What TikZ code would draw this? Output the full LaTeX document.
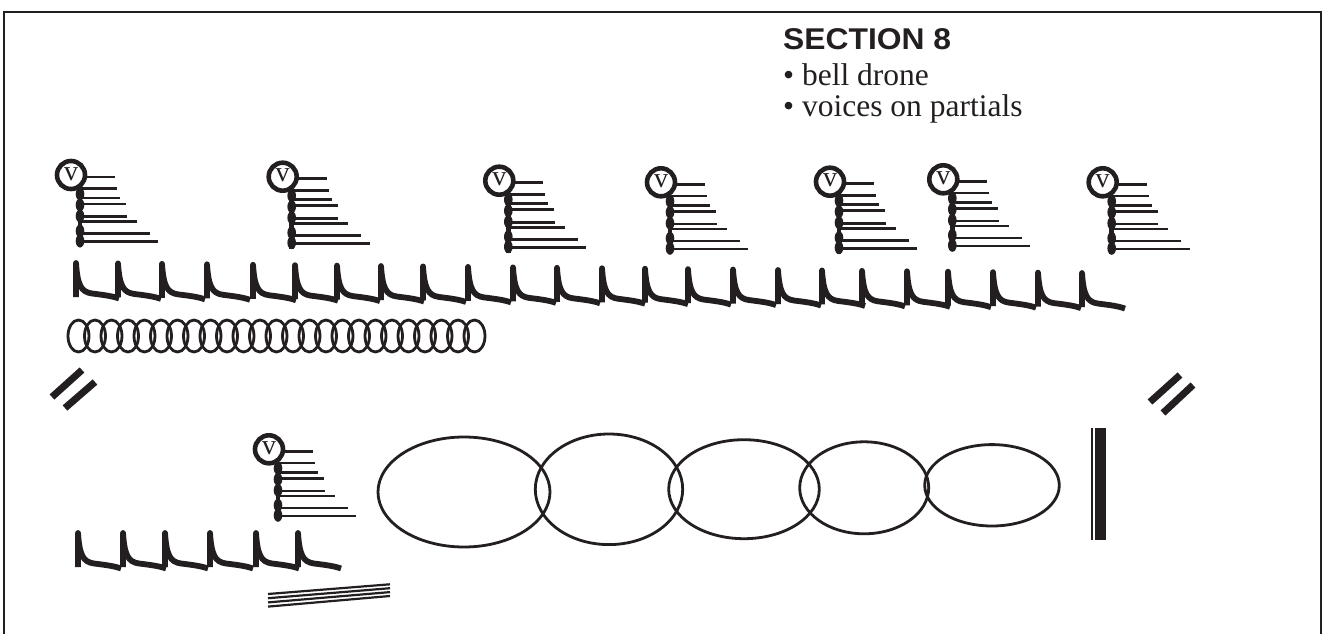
\documentclass[tikz,border=0pt]{standalone}
\usepackage{fontspec}
\usepackage{graphicx}
\setmainfont{Liberation Serif}
\newfontfamily\headfont{Liberation Sans}
\definecolor{ink}{RGB}{35,31,32}
\tikzset{
  hookline/.style={draw=ink, line width=5.8pt, line join=round},
  partial/.style={draw=ink, line width=2.6pt},
  slashbar/.style={draw=ink, line width=7pt},
  bigoval/.style={draw=ink, line width=2.8pt},
  coiloval/.style={draw=ink, line width=2.8pt},
  vmotif/.pic={
    \draw[ink, line width=4.6pt] (0,0) circle[radius=14];
    \node[inner sep=0, text=ink, font=\fontsize{28}{28}\selectfont] (-vl) at (0,-1) {v};
    \draw[ink, line width=4.5pt] (9,15) -- (9,72);
    \foreach \b in {19,30,41,56,66} \fill[ink] (9,\b) ellipse[x radius=4.3, y radius=6.5];
    \draw[partial] (14,2) -- (44,2);
    \foreach \d/\e in {13.5/46, 23/49, 29/55, 41.5/55.5, 46.5/65.5, 58.5/78.5, 66.5/87}
      \draw[partial] (9,\d) -- (\e,\d);
  },
  bellhook/.pic={
    \draw[hookline] (0,0) -- (0,-34) .. controls (1.5,-12) and (5,-5) .. (16,-3.5) .. controls (28,-2) and (36,-1) .. (43,1.5);
  }
}
\begin{document}
\begin{tikzpicture}[x=1pt,y=-1pt]
\useasboundingbox (0,0) rectangle (1326,634);
\clip (0,0) rectangle (1326,634);
\fill[white] (0,0) rectangle (1326,634);
% frame
\draw[ink, line width=2.8pt] (4,660) -- (4,12) -- (1321,12) -- (1321,660);
% texts
\node[anchor=base west, inner sep=0, text=ink] (title) at (783,50)
  {\headfont\bfseries\fontsize{30}{30}\selectfont\scalebox{1.06}[1]{SECTION 8}};
\node[anchor=base west, inner sep=0, text=ink] (item1) at (783,85)
  {\fontsize{31.5}{32}\selectfont • bell drone};
\node[anchor=base west, inner sep=0, text=ink] (item2) at (783,117)
  {\fontsize{31.5}{32}\selectfont • voices on partials};
% voice motifs
\foreach \x/\y [count=\k] in {71/175, 282.7/176.7, 499.3/180.7, 661/182.3, 830/181.7, 943.3/179.3, 1102.7/182.3, 269/449.3}
  \pic (vm\k) at (\x,\y) {vmotif};
% top row of bell hooks
\foreach \x [evaluate=\x as \y using 297+0.01*(\x-76)] in {76,118,162,207,253,295,337,381,423,468,513,557,602,645,688,733,778,822,862,907,948,993,1038,1082}
  \pic at (\x,\y) {bellhook};
% bottom row of bell hooks
\foreach \x in {78,123,165,210,256,298}
  \pic at (\x,567) {bellhook};
% coil
\foreach \i in {0,...,24}
  \draw[coiloval] ({78.5+16.5*\i},336) ellipse[x radius=10.5, y radius=16];
% slashes
\draw[slashbar] (52,397) -- (82,370);
\draw[slashbar] (65,408) -- (95,382);
\draw[slashbar] (1150,402) -- (1180,375);
\draw[slashbar] (1163,413) -- (1193,385);
% big ovals
\draw[bigoval] (464,492) ellipse[x radius=86, y radius=55];
\draw[bigoval] (609,489.3) ellipse[x radius=73.7, y radius=55.3];
\draw[bigoval] (744,489.2) ellipse[x radius=75.3, y radius=49.5];
\draw[bigoval] (864.2,487.8) ellipse[x radius=64.5, y radius=46];
\draw[bigoval] (992,485.3) ellipse[x radius=67.3, y radius=40.7];
% double bar
\draw[ink, line width=2.5pt] (1092,428) -- (1092,540);
\fill[ink] (1095,428) rectangle (1105.7,540);
% stacked lines
\foreach \k in {0,1,2,3}
  \draw[ink, line width=2.2pt] (268,{594+4.2*\k}) -- (390,{584.3+3.9*\k});
\end{tikzpicture}
\end{document}
